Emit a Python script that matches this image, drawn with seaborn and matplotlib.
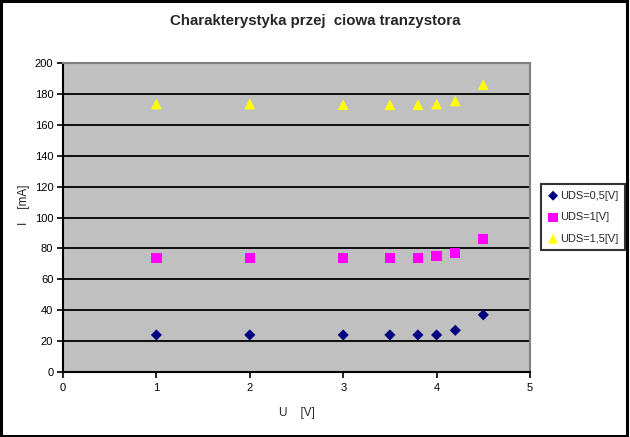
import matplotlib
matplotlib.use("Agg")
import matplotlib.pyplot as plt
import seaborn as sns
import pandas as pd
from matplotlib.patches import Rectangle

u_values = [1, 2, 3, 3.5, 3.8, 4.0, 4.2, 4.5]
i_uds_05 = [24, 24, 24, 24, 24, 24, 27, 37]
i_uds_1 = [74, 74, 74, 74, 74, 75, 77, 86]
i_uds_15 = [173.5, 173.5, 173, 173, 173, 173.5, 175.5, 186]
series_names = ["UDS=0,5[V]", "UDS=1[V]", "UDS=1,5[V]"]
title = "Charakterystyka przej  ciowa tranzystora"
x_label = "U    [V]"
y_label = "I    [mA]"

sns.set_theme(style="white")
plt.rcParams['font.family'] = ['Liberation Sans', 'DejaVu Sans']

rows = []
for name, vals in zip(series_names, [i_uds_05, i_uds_1, i_uds_15]):
    for u, i in zip(u_values, vals):
        rows.append({"U": u, "I": i, "series": name})
df = pd.DataFrame(rows)

fig = plt.figure(figsize=(6.3, 4.37), dpi=100)
ax = fig.add_axes([0.1, 0.1487, 0.7413, 0.7071])
ax.set_facecolor("#C0C0C0")

palette = {series_names[0]: "#000080", series_names[1]: "#FF00FF", series_names[2]: "#FFFF00"}
markers = {series_names[0]: "D", series_names[1]: "s", series_names[2]: "^"}
sizes_map = {series_names[0]: 32, series_names[1]: 55, series_names[2]: 60}
for name in series_names:
    sub = df[df.series == name]
    sns.scatterplot(data=sub, x="U", y="I", color=palette[name], marker=markers[name],
                    s=sizes_map[name], edgecolor="none", ax=ax, label=name, zorder=3)

ax.set_xlim(0, 5)
ax.set_ylim(0, 200)
ax.set_xticks(range(0, 6))
ax.set_yticks(range(0, 201, 20))
for yv in range(20, 200, 20):
    ax.axhline(yv, color="black", lw=1.3, zorder=1)

for side in ["left", "bottom"]:
    ax.spines[side].set_color("black")
    ax.spines[side].set_linewidth(1.5)
for side in ["top", "right"]:
    ax.spines[side].set_color("#808080")
    ax.spines[side].set_linewidth(1.5)

ax.tick_params(axis="both", which="both", length=4, width=1.2, colors="black",
               labelsize=8, direction="out", left=True, bottom=True)
ax.tick_params(axis="y", pad=3)
ax.tick_params(axis="x", pad=4)

ax.set_xlabel(x_label, fontsize=8.5, labelpad=10)
ax.set_ylabel(y_label, fontsize=8.5)
ax.yaxis.set_label_coords(30 / 630, 1 - 205 / 437, transform=fig.transFigure)
fig.suptitle(title, x=0.5, y=0.968, fontsize=10.8, fontweight="bold")

leg = ax.legend(loc="upper left", bbox_to_anchor=(541/630, 1 - 184/437),
                bbox_transform=fig.transFigure, frameon=True, fontsize=7.9,
                handletextpad=0.15, handlelength=1.0, borderpad=0.6,
                labelspacing=1.05, borderaxespad=0, markerscale=0.9)
leg.get_frame().set_edgecolor("black")
leg.get_frame().set_linewidth(1.5)
leg.get_frame().set_boxstyle("square", pad=0)
leg.get_frame().set_facecolor("white")

fig.patches.append(Rectangle((0.001, 0.002), 0.995, 0.996, transform=fig.transFigure,
                             fill=False, edgecolor="black", lw=2.2, zorder=10))

fig.savefig("out.png", dpi=100)
